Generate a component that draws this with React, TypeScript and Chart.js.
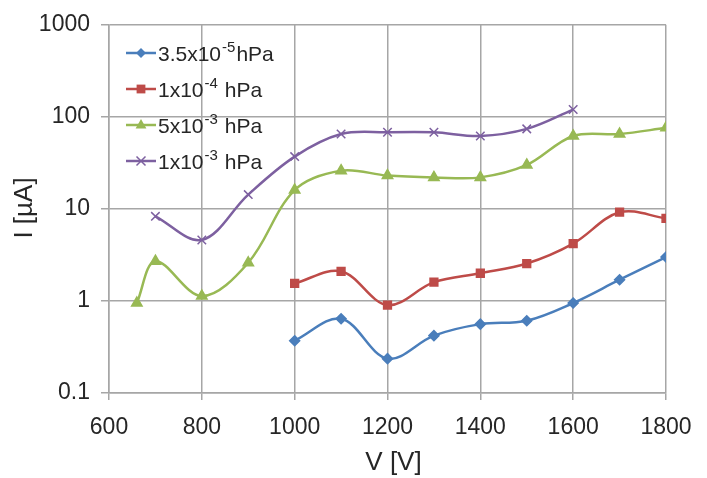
import React, { useEffect, useRef } from "react";
import { Chart, registerables } from "chart.js";

Chart.register(...registerables);

// Voltage steps (V) for each pressure series
const voltsLow = [1000, 1100, 1200, 1300, 1400, 1500, 1600, 1700, 1800];
const voltsMid = [1000, 1100, 1200, 1300, 1400, 1500, 1600, 1700, 1800];
const voltsHigh = [660, 700, 800, 900, 1000, 1100, 1200, 1300, 1400, 1500, 1600, 1700, 1800];
const voltsPurple = [700, 800, 900, 1000, 1100, 1200, 1300, 1400, 1500, 1600];

// Measured current (µA)
const currentLow = [0.37, 0.64, 0.236, 0.42, 0.56, 0.61, 0.95, 1.7, 3.0];
const currentMid = [1.55, 2.1, 0.9, 1.6, 2.0, 2.55, 4.2, 9.2, 7.9];
const currentHigh = [0.95, 2.7, 1.13, 2.6, 16, 26, 23, 22, 22, 30, 62, 65, 76];
const currentPurple = [8.3, 4.6, 14.3, 37, 65, 68, 68, 62, 74, 120];

// Legend labels: base text, superscript exponent, unit
const seriesLabels = [
  { base: "3.5x10", exp: "-5", unit: "hPa" },
  { base: "1x10", exp: "-4", unit: " hPa" },
  { base: "5x10", exp: "-3", unit: " hPa" },
  { base: "1x10", exp: "-3", unit: " hPa" },
];

const yTickValues = [0.1, 1, 10, 100, 1000];
const xTitle = "V [V]";
const yTitle = "I [µA]";

const COLORS = ["#4a7ebb", "#be4b48", "#98b954", "#7d60a0"];
const MARKERS = ["rectRot", "rect", "triangle", "crossRot"] as const;
const RADII = [5, 5.5, 6, 6];
const FONT = "'Liberation Sans', Arial, sans-serif";
const TEXT = "#262626";
const GRID = "#a6a6a6";

const zip = (xs: number[], ys: number[]) => xs.map((x, i) => ({ x, y: ys[i] }));

// Small marker drawer for the legend samples
function drawMarker(ctx: CanvasRenderingContext2D, style: string, x: number, y: number, r: number, color: string) {
  ctx.save();
  ctx.fillStyle = color;
  ctx.strokeStyle = color;
  ctx.lineWidth = 1.5;
  ctx.beginPath();
  if (style === "rectRot") {
    ctx.moveTo(x, y - r);
    ctx.lineTo(x + r, y);
    ctx.lineTo(x, y + r);
    ctx.lineTo(x - r, y);
    ctx.closePath();
    ctx.fill();
  } else if (style === "rect") {
    const s = r * 0.8;
    ctx.rect(x - s, y - s, 2 * s, 2 * s);
    ctx.fill();
  } else if (style === "triangle") {
    ctx.moveTo(x, y - r);
    ctx.lineTo(x + r * 0.9, y + r * 0.6);
    ctx.lineTo(x - r * 0.9, y + r * 0.6);
    ctx.closePath();
    ctx.fill();
  } else {
    const d = r * 0.75;
    ctx.moveTo(x - d, y - d);
    ctx.lineTo(x + d, y + d);
    ctx.moveTo(x + d, y - d);
    ctx.lineTo(x - d, y + d);
    ctx.stroke();
  }
  ctx.restore();
}

// Legend inside the plot area (with superscript exponents) and axis titles
const annotations = {
  id: "annotations",
  afterDraw(chart: any) {
    const ctx = chart.ctx as CanvasRenderingContext2D;
    const area = chart.chartArea;
    const x0 = 126;
    const lineLen = 30;
    const y0 = 53;
    const step = 36;
    ctx.save();
    seriesLabels.forEach((lab, i) => {
      const y = y0 + i * step;
      ctx.strokeStyle = COLORS[i];
      ctx.lineWidth = 2.5;
      ctx.beginPath();
      ctx.moveTo(x0, y);
      ctx.lineTo(x0 + lineLen, y);
      ctx.stroke();
      drawMarker(ctx, MARKERS[i], x0 + lineLen / 2, y, RADII[i], COLORS[i]);
      ctx.fillStyle = TEXT;
      ctx.textBaseline = "middle";
      ctx.textAlign = "left";
      ctx.font = `21px ${FONT}`;
      let tx = x0 + lineLen + 2;
      ctx.fillText(lab.base, tx, y + 2);
      tx += ctx.measureText(lab.base).width + 1;
      ctx.font = `15px ${FONT}`;
      ctx.fillText(lab.exp, tx, y - 5);
      tx += ctx.measureText(lab.exp).width + 1;
      ctx.font = `21px ${FONT}`;
      ctx.fillText(lab.unit, tx, y + 2);
    });

    // axis titles
    ctx.fillStyle = TEXT;
    ctx.font = `26px ${FONT}`;
    ctx.textAlign = "center";
    ctx.textBaseline = "middle";
    ctx.fillText(xTitle, (area.left + area.right) / 2 + 6, 463);
    ctx.translate(25, 208);
    ctx.rotate(-Math.PI / 2);
    ctx.fillText(yTitle, 0, 0);
    ctx.restore();
  },
};

export default function App() {
  const canvasRef = useRef<HTMLCanvasElement | null>(null);

  useEffect(() => {
    const canvas = canvasRef.current;
    if (!canvas) return;
    const sets = [
      zip(voltsLow, currentLow),
      zip(voltsMid, currentMid),
      zip(voltsHigh, currentHigh),
      zip(voltsPurple, currentPurple),
    ];
    const chart = new Chart(canvas, {
      type: "line",
      data: {
        datasets: sets.map((d, i) => ({
          label: seriesLabels[i].base + seriesLabels[i].exp + seriesLabels[i].unit,
          data: d,
          borderColor: COLORS[i],
          backgroundColor: COLORS[i],
          pointBorderColor: COLORS[i],
          pointBackgroundColor: COLORS[i],
          borderWidth: 2.5,
          pointStyle: MARKERS[i],
          pointRadius: RADII[i],
          pointBorderWidth: 1.5,
          tension: 0.35,
          fill: false,
        })),
      },
      options: {
        responsive: false,
        animation: false,
        layout: { padding: { top: 22, right: 41, left: 0, bottom: 0 } },
        plugins: {
          legend: { display: false },
          tooltip: { enabled: false },
        },
        scales: {
          x: {
            type: "linear",
            min: 600,
            max: 1800,
            ticks: {
              stepSize: 200,
              color: TEXT,
              font: { family: FONT, size: 23 },
              padding: 14,
              callback: (v: any) => String(v),
            },
            grid: { color: GRID, lineWidth: 1.5, tickLength: 7 },
            border: { color: GRID, width: 1.5 },
            afterFit: (scale: any) => {
              scale.height = 85;
            },
          },
          y: {
            type: "logarithmic",
            min: 0.1,
            max: 1000,
            afterBuildTicks: (scale: any) => {
              scale.ticks = yTickValues.map((v) => ({ value: v }));
            },
            ticks: {
              color: TEXT,
              font: { family: FONT, size: 23 },
              padding: 11,
              callback: (v: any) => String(v),
            },
            grid: { color: GRID, lineWidth: 1.5, tickLength: 8 },
            border: { color: GRID, width: 1.5 },
            afterFit: (scale: any) => {
              scale.width = 109;
            },
          },
        },
      },
      plugins: [annotations],
    });
    return () => chart.destroy();
  }, []);

  return (
    <div style={{ position: "fixed", left: 0, top: 0, width: 707, height: 478, background: "#fff" }}>
      <canvas ref={canvasRef} width={707} height={478} />
    </div>
  );
}
